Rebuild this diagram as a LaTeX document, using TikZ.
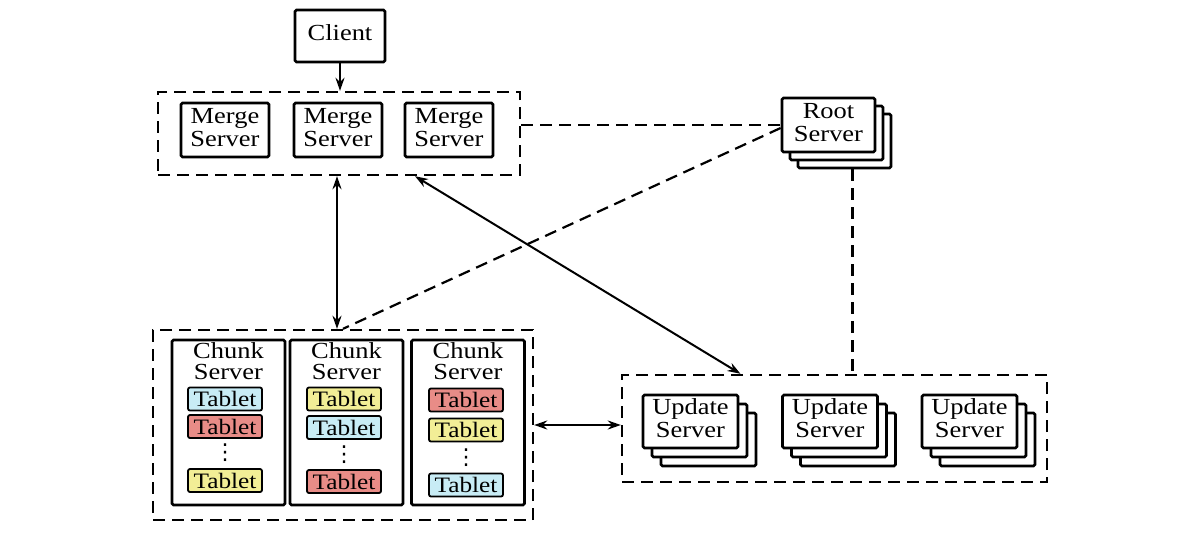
\documentclass[tikz,border=0pt]{standalone}
\usepackage{fontspec}
\setmainfont{Liberation Serif}
\newfontfamily\dejavu{DejaVu Sans}
\usepackage{graphicx}
\usetikzlibrary{arrows.meta,calc}
\newcommand\lbl[2][23]{\scalebox{1.15}[1]{\fontsize{23}{#1}\selectfont\begin{tabular}{@{}c@{}}#2\end{tabular}}}
\definecolor{tblue}{RGB}{200,236,245}
\definecolor{tred}{RGB}{232,140,135}
\definecolor{tyel}{RGB}{242,238,150}
\tikzset{
  box/.style={draw, line width=2.8pt, fill=white, inner sep=0pt, rounded corners=1.5pt},
  grp/.style={draw, line width=2.4pt, dash pattern=on 12pt off 7pt, inner sep=0pt},
  dline/.style={line width=2.2pt, dash pattern=on 12pt off 7pt},
  arr/.style={line width=2pt, -{Stealth[length=13pt,width=9pt]}},
  darr/.style={line width=2pt, {Stealth[length=13pt,width=9pt]}-{Stealth[length=13pt,width=9pt]}},
  tab/.style={draw, line width=1.8pt, rounded corners=2pt, minimum width=74pt, minimum height=23pt, inner sep=0pt, font=\fontsize{22}{22}\selectfont},
  dots/.style={inner sep=0pt, font=\dejavu\fontsize{22}{22}\selectfont},
}
\begin{document}
\begin{tikzpicture}[x=1pt,y=-1pt]
\useasboundingbox (0,0) rectangle (1200,538);
% client & merge
\node[box, minimum width=90pt, minimum height=52pt] (client) at (340,36) {\lbl{Client}};
\node[grp, minimum width=362pt, minimum height=83pt] (mg) at (339,133.5) {};
\node[box, minimum width=88pt, minimum height=54pt] (m1) at (225,130) {\lbl{Merge\\Server}};
\node[box, minimum width=88pt, minimum height=54pt] (m2) at (338,130) {\lbl{Merge\\Server}};
\node[box, minimum width=88pt, minimum height=54pt] (m3) at (449,130) {\lbl{Merge\\Server}};
% root
\node[box, minimum width=93pt, minimum height=54pt] (root3) at (844.5,141) {};
\node[box, minimum width=93pt, minimum height=54pt] (root2) at (836.5,133) {};
\node[box, minimum width=93pt, minimum height=54pt] (root) at (828.5,125) {\lbl{Root\\Server}};
% chunk
\node[grp, minimum width=380pt, minimum height=190pt] (cg) at (343,425) {};
\node[box, minimum width=113pt, minimum height=165pt] (c1) at (228.5,422.5) {};
\node[box, minimum width=113pt, minimum height=165pt] (c2) at (346.5,422.5) {};
\node[box, minimum width=113pt, minimum height=165pt] (c3) at (468,422.5) {};
\node[anchor=north, inner sep=0pt] (c1t) at ([yshift=-4pt]c1.north) {\lbl[20]{Chunk\\Server}};
\node[anchor=north, inner sep=0pt] (c2t) at ([yshift=-4pt]c2.north) {\lbl[20]{Chunk\\Server}};
\node[anchor=north, inner sep=0pt] (c3t) at ([yshift=-4pt]c3.north) {\lbl[20]{Chunk\\Server}};
% tablets col1
\node[tab, fill=tblue] (t11) at (225,399) {\scalebox{1.15}[1]{Tablet}};
\node[tab, fill=tred]  (t12) at (225,426.5) {\scalebox{1.15}[1]{Tablet}};
\node[dots] (d1) at (225,453) {⋮};
\node[tab, fill=tyel]  (t13) at (225,480.5) {\scalebox{1.15}[1]{Tablet}};
% col2
\node[tab, fill=tyel]  (t21) at (344,399) {\scalebox{1.15}[1]{Tablet}};
\node[tab, fill=tblue] (t22) at (344,427.5) {\scalebox{1.15}[1]{Tablet}};
\node[dots] (d2) at (344,454.5) {⋮};
\node[tab, fill=tred]  (t23) at (344,481.5) {\scalebox{1.15}[1]{Tablet}};
% col3
\node[tab, fill=tred]  (t31) at (466,400) {\scalebox{1.15}[1]{Tablet}};
\node[tab, fill=tyel]  (t32) at (466,430) {\scalebox{1.15}[1]{Tablet}};
\node[dots] (d3) at (466,457.5) {⋮};
\node[tab, fill=tblue] (t33) at (466,485) {\scalebox{1.15}[1]{Tablet}};
% update
\node[grp, minimum width=425pt, minimum height=107pt] (ug) at (834.5,428.5) {};
\foreach \i/\x in {1/690.5,2/830,3/969.5}{
  \node[box, minimum width=95pt, minimum height=53pt] (u\i c) at (\x+18,439.5) {};
  \node[box, minimum width=95pt, minimum height=53pt] (u\i b) at (\x+9,430.5) {};
  \node[box, minimum width=95pt, minimum height=53pt] (u\i) at (\x,421.5) {\lbl{Update\\Server}};
}
% connectors
\draw[arr] (client.south) -- (client.south |- mg.north);
\draw[darr] ([xshift=-2pt]mg.south) -- ([xshift=-2pt]mg.south |- cg.north);
\draw[darr] ([xshift=76pt]mg.south) -- ([xshift=-94pt]ug.north);
\draw[darr] (cg.east) -- (cg.east -| ug.west);
\draw[dline] (mg.east |- root.west) -- (root.west);
\draw[dline] ([yshift=-3pt]root.west) -- (cg.north);
\draw[dline] ([xshift=8pt]root3.south) -- ([xshift=8pt]root3.south |- ug.north);
\end{tikzpicture}
\end{document}
